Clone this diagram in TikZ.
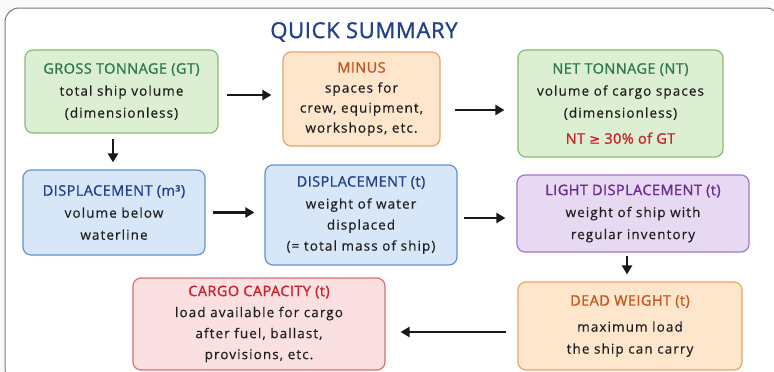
\documentclass[tikz,border=0pt]{standalone}
\usepackage{fontspec}
\setmainfont{Open Sans}
\newfontfamily\bodyfont[FakeBold=0.4,LetterSpace=8]{Open Sans}
\newfontfamily\headfont[FakeBold=1.2,LetterSpace=3]{Open Sans}
\newfontfamily\symfont[FakeBold=1.2]{DejaVu Sans}
\usetikzlibrary{arrows.meta}
\definecolor{gfill}{HTML}{DDEFD2}\definecolor{gline}{HTML}{86BC72}\definecolor{gtext}{HTML}{2E7A4E}
\definecolor{ofill}{HTML}{FDE6CC}\definecolor{oline}{HTML}{E9A564}\definecolor{otext}{HTML}{C8561E}
\definecolor{bfill}{HTML}{D8E7F7}\definecolor{bline}{HTML}{6392CF}\definecolor{btext}{HTML}{23408E}
\definecolor{pfill}{HTML}{E8D9F3}\definecolor{pline}{HTML}{A276CF}\definecolor{ptext}{HTML}{6A2C91}
\definecolor{rfill}{HTML}{FBE0E1}\definecolor{rline}{HTML}{DC6E72}\definecolor{rtext}{HTML}{C8232C}
\definecolor{framec}{HTML}{7A7A7A}
\newcommand{\bxtitle}[2]{{\headfont\fontsize{14.5}{22}\selectfont\color{#1}#2}}
\tikzset{
  x=1pt, y=-1pt,
  box/.style={rounded corners=8pt, line width=1.2pt, align=center, inner sep=0pt,
    font=\bodyfont\fontsize{13.5}{22}\selectfont, text=black!88},
  gbox/.style={box, draw=gline, fill=gfill},
  obox/.style={box, draw=oline, fill=ofill},
  bbox/.style={box, draw=bline, fill=bfill},
  pbox/.style={box, draw=pline, fill=pfill},
  rbox/.style={box, draw=rline, fill=rfill},
  arr/.style={line width=2.2pt, -{Triangle[length=9pt,width=10pt]}, black!90}
}
\begin{document}
\begin{tikzpicture}
\useasboundingbox (0,0) rectangle (774,372);
\fill[white!98!black] (0,0) rectangle (774,372);
\begin{scope}
\clip (0,0) rectangle (774,372);
\draw[framec, line width=1pt, rounded corners=14pt, fill=white] (5,8) rectangle (780,382);
\end{scope}
\node[font=\headfont\fontsize{22}{24}\selectfont, text=btext] (title) at (364,32) {QUICK SUMMARY};

\node[gbox, minimum width=193pt, minimum height=83pt] (gt) at (121.5,91.5)
  {\bxtitle{gtext}{GROSS TONNAGE (GT)}\\ total ship volume\\ (dimensionless)};
\node[obox, minimum width=157pt, minimum height=94pt] (minus) at (361.5,99)
  {\bxtitle{otext}{MINUS}\\[-2pt] spaces for\\[-2pt] crew, equipment,\\[-2pt] workshops, etc.};
\node[gbox, minimum width=205pt, minimum height=107pt] (nt) at (620.5,103.5)
  {\bxtitle{gtext}{NET TONNAGE (NT)}\\ volume of cargo spaces\\ (dimensionless)\\[4pt] {\headfont\color{rtext}\fontsize{14.5}{22}\selectfont NT {\symfont\fontsize{13}{22}\selectfont ≥} 30\% of GT}};

\node[bbox, minimum width=182pt, minimum height=85pt] (dispv) at (114,212.5)
  {\bxtitle{btext}{DISPLACEMENT (m³)}\\ volume below\\ waterline};
\node[bbox, minimum width=192pt, minimum height=100pt] (dispt) at (361,215)
  {\bxtitle{btext}{DISPLACEMENT (t)}\\ weight of water\\[-1pt] displaced\\[-1pt] (= total mass of ship)};
\node[pbox, minimum width=232pt, minimum height=77pt] (light) at (633,213.5)
  {\bxtitle{ptext}{LIGHT DISPLACEMENT (t)}\\ weight of ship with\\ regular inventory};

\node[obox, minimum width=224pt, minimum height=88pt] (dead) at (630,326)
  {\bxtitle{otext}{DEAD WEIGHT (t)}\\[4pt] maximum load\\ the ship can carry};
\node[rbox, minimum width=252pt, minimum height=92pt] (cargo) at (259,324)
  {\bxtitle{rtext}{CARGO CAPACITY (t)}\\[-1pt] load available for cargo\\[-1pt] after fuel, ballast,\\[-1pt] provisions, etc.};

\draw[arr, shorten <=8pt, shorten >=11pt] ([yshift=-3.5pt]gt.east) -- ([yshift=-3.5pt]gt.east -| minus.west);
\draw[arr, shorten <=14pt, shorten >=13pt] ([yshift=-11pt]minus.east) -- ([yshift=-11pt]minus.east -| nt.west);
\draw[arr, shorten <=5pt, shorten >=7pt] ([xshift=-8.5pt]gt.south) -- ([xshift=-8.5pt]gt.south |- dispv.north);
\draw[arr, shorten <=7pt, shorten >=10pt] (dispv.east) -- (dispv.east -| dispt.west);
\draw[arr, shorten <=6pt, shorten >=11pt] ([yshift=-3pt]dispt.east) -- ([yshift=-3pt]dispt.east -| light.west);
\draw[arr, shorten <=3pt, shorten >=7pt] ([xshift=-6pt]light.south) -- ([xshift=-6pt]light.south |- dead.north);
\draw[arr, shorten <=11pt, shorten >=15pt] ([yshift=-6pt]dead.west) -- ([yshift=-6pt]dead.west -| cargo.east);
\end{tikzpicture}
\end{document}
